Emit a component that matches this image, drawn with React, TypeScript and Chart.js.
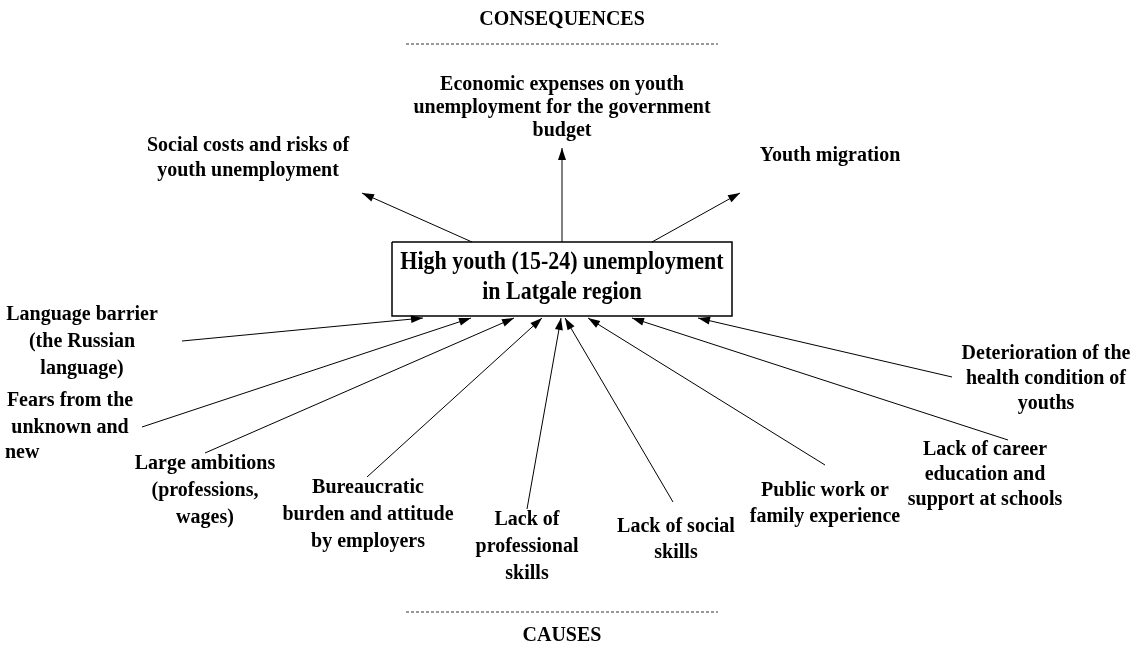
import React, { useEffect, useRef } from "react";
import { Chart, registerables } from "chart.js";

Chart.register(...registerables);

const W = 1134;
const H = 647;

// Central problem box (corner points, closed)
const boxCorners: number[][] = [[392, 242], [732, 242], [732, 316], [392, 316], [392, 242]];
const boxText: string[] = ["High youth (15-24) unemployment", "in Latgale region"];

// Consequence arrows: [from, to] (arrowhead at "to")
const effectArrows: number[][][] = [
  [[472, 242], [362, 193]],
  [[562, 242], [562, 148]],
  [[652, 242], [740, 193]],
];

// Cause arrows: [from label, to box]
const causeArrows: number[][][] = [
  [[182, 341], [423, 318]],
  [[142, 427], [471, 318]],
  [[205, 453], [514, 318]],
  [[367, 477], [542, 318]],
  [[527, 509], [561, 318]],
  [[673, 502], [565, 318]],
  [[825, 465], [588, 318]],
  [[1008, 440], [632, 318]],
  [[952, 377], [698, 318]],
];

// Dashed divider lines
const dividerTop: number[][] = [[406, 44], [718, 44]];
const dividerBottom: number[][] = [[406, 612], [718, 612]];

// Headings
const headings = [
  { text: "CONSEQUENCES", x: 562, y: 20 },
  { text: "CAUSES", x: 562, y: 636 },
];

// Consequence labels
const effectLabels = [
  { lines: ["Economic expenses on youth", "unemployment for the government", "budget"], x: 562, y: 85, lh: 23 },
  { lines: ["Social costs and risks of", "youth unemployment"], x: 248, y: 146, lh: 25 },
  { lines: ["Youth migration"], x: 830, y: 156, lh: 25 },
];

// Cause labels
const causeLabels = [
  { lines: ["Language barrier", "(the Russian", "language)"], x: 82, y: 315, lh: 27, align: "center" },
  { lines: ["Fears from the", "unknown and"], x: 70, y: 401, lh: 27, align: "center" },
  { lines: ["new"], x: 5, y: 453, lh: 27, align: "left" },
  { lines: ["Large ambitions", "(professions,", "wages)"], x: 205, y: 464, lh: 27, align: "center" },
  { lines: ["Bureaucratic", "burden and attitude", "by employers"], x: 368, y: 488, lh: 27, align: "center" },
  { lines: ["Lack of", "professional", "skills"], x: 527, y: 520, lh: 27, align: "center" },
  { lines: ["Lack of social", "skills"], x: 676, y: 527, lh: 26, align: "center" },
  { lines: ["Public work or", "family experience"], x: 825, y: 491, lh: 26, align: "center" },
  { lines: ["Lack of career", "education and", "support at schools"], x: 985, y: 450, lh: 25, align: "center" },
  { lines: ["Deterioration of the", "health condition of", "youths"], x: 1046, y: 354, lh: 25, align: "center" },
];

const FONT = '"Liberation Serif", "Times New Roman", serif';

const toPts = (arr: number[][]) => arr.map(([x, y]) => ({ x, y }));

const diagramPlugin = {
  id: "diagram",
  afterDatasetsDraw(chart: any) {
    const ctx = chart.ctx as CanvasRenderingContext2D;
    const xs = chart.scales.x;
    const ys = chart.scales.y;

    // arrowheads
    chart.data.datasets.forEach((ds: any, i: number) => {
      if (!ds.arrow) return;
      const pts = chart.getDatasetMeta(i).data;
      const a = pts[pts.length - 2];
      const b = pts[pts.length - 1];
      const ang = Math.atan2(b.y - a.y, b.x - a.x);
      ctx.save();
      ctx.translate(b.x, b.y);
      ctx.rotate(ang);
      ctx.fillStyle = "#000";
      ctx.beginPath();
      ctx.moveTo(0, 0);
      ctx.lineTo(-12, 4);
      ctx.lineTo(-12, -4);
      ctx.closePath();
      ctx.fill();
      ctx.restore();
    });

    const draw = (lines: string[], x: number, y: number, lh: number, size: number, align: string, sy = 1) => {
      ctx.save();
      ctx.fillStyle = "#000";
      ctx.font = `bold ${size}px ${FONT}`;
      ctx.textAlign = align as CanvasTextAlign;
      ctx.textBaseline = "middle";
      lines.forEach((t, k) => {
        const px = xs.getPixelForValue(x);
        const py = ys.getPixelForValue(y + k * lh);
        ctx.save();
        ctx.translate(px, py);
        ctx.scale(1, sy);
        ctx.fillText(t, 0, 0);
        ctx.restore();
      });
      ctx.restore();
    };

    headings.forEach((h) => draw([h.text], h.x, h.y, 0, 20, "center", 1.05));
    effectLabels.forEach((l) => draw(l.lines, l.x, l.y, l.lh, 20, "center", 1.05));
    causeLabels.forEach((l) => draw(l.lines, l.x, l.y, l.lh, 20, l.align, 1.05));
    draw(boxText, 562, 263, 30, 22, "center", 1.12);
  },
};

export default function App() {
  const ref = useRef<HTMLCanvasElement | null>(null);

  useEffect(() => {
    if (!ref.current) return;
    const lineDs = (pts: number[][], extra: any = {}) => ({
      data: toPts(pts),
      showLine: true,
      borderColor: "#000",
      borderWidth: 1,
      pointRadius: 0,
      pointHoverRadius: 0,
      fill: false,
      tension: 0,
      ...extra,
    });
    const datasets: any[] = [
      lineDs(boxCorners, { borderWidth: 1.5 }),
      ...effectArrows.map((a) => lineDs(a, { arrow: true })),
      ...causeArrows.map((a) => lineDs(a, { arrow: true })),
      lineDs(dividerTop, { borderDash: [3, 2], borderColor: "#333" }),
      lineDs(dividerBottom, { borderDash: [3, 2], borderColor: "#333" }),
    ];
    const chart = new Chart(ref.current, {
      type: "scatter",
      data: { datasets },
      options: {
        responsive: false,
        animation: false,
        events: [],
        layout: { padding: 0 },
        plugins: { legend: { display: false }, tooltip: { enabled: false } },
        scales: {
          x: { type: "linear", min: 0, max: W, display: false },
          y: { type: "linear", min: 0, max: H, reverse: true, display: false },
        },
      },
      plugins: [diagramPlugin],
    } as any);
    return () => chart.destroy();
  }, []);

  return (
    <div style={{ position: "fixed", left: 0, top: 0, width: W, height: H, background: "#fff" }}>
      <canvas ref={ref} width={W} height={H} style={{ display: "block" }} />
    </div>
  );
}
